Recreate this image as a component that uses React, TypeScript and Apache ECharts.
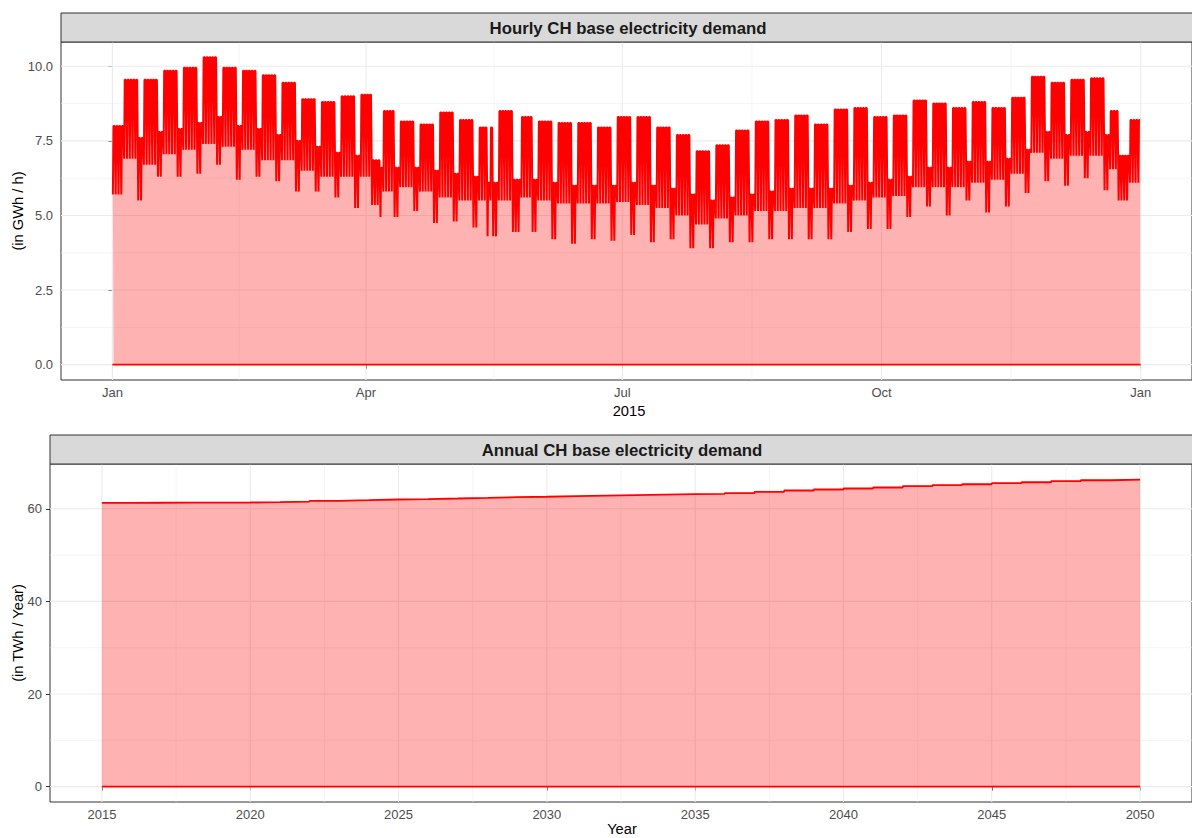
import React, { useEffect, useRef } from "react";
import * as echarts from "echarts";

const FONT = "'Liberation Sans', Arial, Helvetica, sans-serif";

// ---------- Hourly panel (2015) : weekly levels ----------
// week index 0 = Thu 1 Jan .. Sun 4 Jan, week 1 starts Mon 5 Jan, ... week 52 = 28..31 Dec
const weekdayMax = [
  8.1, 9.55, 9.55, 9.85, 9.95, 10.3, 9.95, 9.85, 9.7, 9.45,
  8.9, 8.8, 9.0, 9.05, 8.5, 8.15, 8.05, 8.45, 8.2, 7.95,
  8.5, 8.3, 8.15, 8.1, 8.1, 7.95, 8.3, 8.3, 7.95, 7.7,
  7.15, 7.35, 7.85, 8.15, 8.2, 8.35, 8.05, 8.55, 8.6, 8.3,
  8.35, 8.85, 8.75, 8.6, 8.8, 8.6, 8.95, 9.65, 9.45, 9.55,
  9.6, 8.5, 8.2,
];
const weekdayMin = [
  6.2, 6.9, 6.7, 7.05, 7.2, 7.4, 7.3, 7.2, 6.85, 6.85,
  6.5, 6.3, 6.3, 6.3, 5.8, 5.95, 5.8, 5.6, 5.5, 5.5,
  5.5, 5.6, 5.5, 5.4, 5.4, 5.4, 5.45, 5.35, 5.25, 5.0,
  4.7, 4.9, 5.0, 5.15, 5.15, 5.25, 5.25, 5.4, 5.5, 5.6,
  5.65, 5.95, 5.95, 5.95, 6.1, 6.2, 6.4, 7.1, 6.9, 7.0,
  7.0, 6.55, 6.1,
];
const weekendMax = [
  8.0, 7.6, 7.8, 7.9, 8.1, 8.3, 8.0, 7.9, 7.7, 7.5,
  7.3, 7.1, 7.0, 6.85, 6.6, 6.6, 6.5, 6.4, 6.3, 6.1,
  6.2, 6.2, 6.1, 6.0, 6.0, 6.0, 6.1, 6.0, 5.9, 5.7,
  5.5, 5.6, 5.7, 5.8, 5.9, 5.9, 5.9, 6.0, 6.1, 6.2,
  6.3, 6.6, 6.6, 6.8, 6.8, 6.9, 7.2, 7.8, 7.7, 7.8,
  7.7, 7.0, 7.0,
];
const weekendMin = [
  5.7, 5.5, 6.3, 6.3, 6.4, 6.7, 6.2, 6.3, 6.15, 5.8,
  5.8, 5.6, 5.25, 5.35, 4.95, 5.15, 4.75, 4.8, 4.6, 4.3,
  4.45, 4.45, 4.2, 4.05, 4.2, 4.15, 4.35, 4.1, 4.2, 3.9,
  3.9, 4.1, 4.1, 4.2, 4.2, 4.2, 4.2, 4.45, 4.55, 4.55,
  4.95, 5.3, 5.0, 5.5, 5.1, 5.3, 5.75, 6.15, 6.0, 6.25,
  5.85, 5.5, 5.6,
];
const holidays = [
  "2015-01-01", "2015-01-02", "2015-04-03", "2015-04-06", "2015-05-14",
  "2015-05-25", "2015-08-01", "2015-12-24", "2015-12-25", "2015-12-26",
];
// hours of the day at which the night low and the day-time plateau are taken
const lowHour = [4];
const highHours = [9, 19];

const monthTickDays = [0, 90, 181, 273, 365];
const monthTickLabels = ["Jan", "Apr", "Jul", "Oct", "Jan"];
const monthMinorDays = [45, 135.5, 227, 319];
const hourlyYTicks = [0, 2.5, 5, 7.5, 10];
const hourlyYMinor = [1.25, 3.75, 6.25, 8.75];

// ---------- Annual panel ----------
const years = [
  2015, 2016, 2017, 2018, 2019, 2020, 2021, 2022, 2023, 2024, 2025, 2026,
  2027, 2028, 2029, 2030, 2031, 2032, 2033, 2034, 2035, 2036, 2037, 2038,
  2039, 2040, 2041, 2042, 2043, 2044, 2045, 2046, 2047, 2048, 2049, 2050,
];
const annualDemand = [
  61.29, 61.3, 61.31, 61.33, 61.35, 61.42, 61.55, 61.72, 61.85, 62.0, 62.1, 62.22,
  62.35, 62.5, 62.6, 62.72, 62.82, 62.93, 63.04, 63.15, 63.22, 63.4, 63.66, 63.94,
  64.16, 64.38, 64.59, 64.87, 65.09, 65.3, 65.52, 65.73, 65.95, 66.16, 66.31, 66.35,
];
const yearTicks = [2015, 2020, 2025, 2030, 2035, 2040, 2045, 2050];
const yearMinor = [2017.5, 2022.5, 2027.5, 2032.5, 2037.5, 2042.5, 2047.5];
const annualYTicks = [0, 20, 40, 60];
const annualYMinor = [10, 30, 50];

// ---------- build tables ----------
function dayIndex(s: string) {
  const [y, m, d] = s.split("-").map(Number);
  return Math.round((Date.UTC(y, m - 1, d) - Date.UTC(2015, 0, 1)) / 86400000);
}
const holidaySet = new Set(holidays.map(dayIndex));
const hourlyData: number[][] = [];
for (let d = 0; d < 365; d++) {
  const dow = (d + 3) % 7; // 0 = Monday
  const w = Math.floor((d + 3) / 7);
  const off = dow >= 5 || holidaySet.has(d);
  const hi = off ? weekendMax[w] : weekdayMax[w];
  const lo = off ? weekendMin[w] : weekdayMin[w];
  lowHour.forEach((h) => hourlyData.push([d + h / 24, lo]));
  highHours.forEach((h) => hourlyData.push([d + h / 24, hi]));
}
const hourlyMaxVal = Math.max(...weekdayMax, ...weekendMax);
const hEnd = 365 - 1 / 24;
const hPad = hEnd * 0.05;
const hyPad = hourlyMaxVal * 0.05;

const annualData = years.map((y, i) => [y, annualDemand[i]]);
const aMax = Math.max(...annualDemand);
const ayPad = aMax * 0.05;
const axPad = (years[years.length - 1] - years[0]) * 0.05;

function gridLineItems(xMaj: number[], xMin: number[], yMaj: number[], yMin: number[]) {
  return [
    ...xMin.map((v) => [0, v, 0]),
    ...yMin.map((v) => [1, v, 0]),
    ...xMaj.map((v) => [0, v, 1]),
    ...yMaj.map((v) => [1, v, 1]),
  ];
}

function gridSeries(idx: number, items: number[][], xMid: number, yMid: number) {
  return {
    type: "custom",
    xAxisIndex: idx,
    yAxisIndex: idx,
    silent: true,
    z: 1,
    data: items,
    renderItem: (params: any, api: any) => {
      const cs = params.coordSys;
      const o = api.value(0);
      const v = api.value(1);
      const major = api.value(2) === 1;
      const style = { stroke: "#EBEBEB", lineWidth: major ? 1.1 : 0.55 };
      if (o === 0) {
        const x = api.coord([v, yMid])[0];
        return { type: "line", shape: { x1: x, y1: cs.y, x2: x, y2: cs.y + cs.height }, style };
      }
      const y = api.coord([xMid, v])[1];
      return { type: "line", shape: { x1: cs.x, y1: y, x2: cs.x + cs.width, y2: y }, style };
    },
  };
}

function nearestLabel(v: number, vals: number[], labels: string[]) {
  let best = 0;
  vals.forEach((t, i) => {
    if (Math.abs(t - v) < Math.abs(vals[best] - v)) best = i;
  });
  return labels[best];
}

const tickStyle = { show: true, length: 4, inside: false, lineStyle: { color: "#333333", width: 1 } };
const labelBase = { color: "#4D4D4D", fontSize: 13, fontFamily: FONT };
const areaFill = { color: "rgba(255,0,0,0.3)", opacity: 1, origin: "auto" };

const option: any = {
  animation: false,
  backgroundColor: "#FFFFFF",
  grid: [
    { left: 61, top: 42, width: 1136, height: 338, show: true, borderColor: "#333333", borderWidth: 1, backgroundColor: "transparent" },
    { left: 50, top: 464, width: 1146, height: 338, show: true, borderColor: "#333333", borderWidth: 1, backgroundColor: "transparent" },
  ],
  xAxis: [
    {
      type: "value",
      gridIndex: 0,
      min: -hPad,
      max: hEnd + hPad,
      axisLine: { show: false },
      axisTick: { ...tickStyle, customValues: monthTickDays },
      axisLabel: {
        ...labelBase,
        margin: 6,
        customValues: monthTickDays,
        formatter: (v: number) => nearestLabel(v, monthTickDays, monthTickLabels),
      },
      splitLine: { show: false },
    },
    {
      type: "value",
      gridIndex: 1,
      min: years[0] - axPad,
      max: years[years.length - 1] + axPad,
      axisLine: { show: false },
      axisTick: { ...tickStyle, customValues: yearTicks },
      axisLabel: { ...labelBase, margin: 6, customValues: yearTicks, formatter: (v: number) => String(Math.round(v)) },
      splitLine: { show: false },
    },
  ],
  yAxis: [
    {
      type: "value",
      gridIndex: 0,
      min: -hyPad,
      max: hourlyMaxVal + hyPad,
      axisLine: { show: false },
      axisTick: { ...tickStyle, customValues: hourlyYTicks },
      axisLabel: { ...labelBase, margin: 8, customValues: hourlyYTicks, formatter: (v: number) => v.toFixed(1) },
      splitLine: { show: false },
    },
    {
      type: "value",
      gridIndex: 1,
      min: -ayPad,
      max: aMax + ayPad,
      axisLine: { show: false },
      axisTick: { ...tickStyle, customValues: annualYTicks },
      axisLabel: { ...labelBase, margin: 8, customValues: annualYTicks, formatter: (v: number) => String(Math.round(v)) },
      splitLine: { show: false },
    },
  ],
  series: [
    gridSeries(0, gridLineItems(monthTickDays, monthMinorDays, hourlyYTicks, hourlyYMinor), 180, 5),
    {
      type: "line",
      xAxisIndex: 0,
      yAxisIndex: 0,
      data: hourlyData,
      symbol: "none",
      showSymbol: false,
      silent: true,
      z: 3,
      lineStyle: { color: "#FF0000", width: 2 },
      areaStyle: areaFill,
    },
    {
      type: "line",
      xAxisIndex: 0,
      yAxisIndex: 0,
      data: [[0, 0], [hEnd, 0]],
      symbol: "none",
      silent: true,
      z: 4,
      lineStyle: { color: "#FF0000", width: 1.8 },
    },
    gridSeries(1, gridLineItems(yearTicks, yearMinor, annualYTicks, annualYMinor), 2030, 30),
    {
      type: "line",
      xAxisIndex: 1,
      yAxisIndex: 1,
      data: annualData,
      step: "end",
      symbol: "none",
      silent: true,
      z: 3,
      lineStyle: { color: "#FF0000", width: 1.8 },
      areaStyle: areaFill,
    },
    {
      type: "line",
      xAxisIndex: 1,
      yAxisIndex: 1,
      data: [[years[0], 0], [years[years.length - 1], 0]],
      symbol: "none",
      silent: true,
      z: 4,
      lineStyle: { color: "#FF0000", width: 1.8 },
    },
  ],
  graphic: [
    { type: "rect", z: 10, shape: { x: 61, y: 13, width: 1136, height: 29 }, style: { fill: "#D9D9D9", stroke: "#333333", lineWidth: 1 } },
    {
      type: "text", z: 11, x: 628, y: 28,
      style: { text: "Hourly CH base electricity demand", font: `bold 16.8px ${FONT}`, fill: "#1A1A1A", align: "center", verticalAlign: "middle" },
    },
    { type: "rect", z: 10, shape: { x: 50, y: 435, width: 1146, height: 29 }, style: { fill: "#D9D9D9", stroke: "#333333", lineWidth: 1 } },
    {
      type: "text", z: 11, x: 622, y: 450,
      style: { text: "Annual CH base electricity demand", font: `bold 16.8px ${FONT}`, fill: "#1A1A1A", align: "center", verticalAlign: "middle" },
    },
    {
      type: "text", z: 11, x: 629, y: 411,
      style: { text: "2015", font: `14.7px ${FONT}`, fill: "#000000", align: "center", verticalAlign: "middle" },
    },
    {
      type: "text", z: 11, x: 622, y: 829,
      style: { text: "Year", font: `14.7px ${FONT}`, fill: "#000000", align: "center", verticalAlign: "middle" },
    },
    {
      type: "text", z: 11, x: 18, y: 211, rotation: Math.PI / 2,
      style: { text: "(in GWh / h)", font: `14.7px ${FONT}`, fill: "#000000", align: "center", verticalAlign: "middle" },
    },
    {
      type: "text", z: 11, x: 18, y: 633, rotation: Math.PI / 2,
      style: { text: "(in TWh / Year)", font: `14.7px ${FONT}`, fill: "#000000", align: "center", verticalAlign: "middle" },
    },
  ],
};

export default function App() {
  const ref = useRef<HTMLDivElement>(null);
  useEffect(() => {
    if (!ref.current) return;
    const chart = echarts.init(ref.current, undefined, { renderer: "svg" });
    chart.setOption(option);
    return () => chart.dispose();
  }, []);
  return (
    <div
      ref={ref}
      style={{ position: "fixed", left: 0, top: 0, width: 1192, height: 838, background: "#FFFFFF" }}
    />
  );
}
